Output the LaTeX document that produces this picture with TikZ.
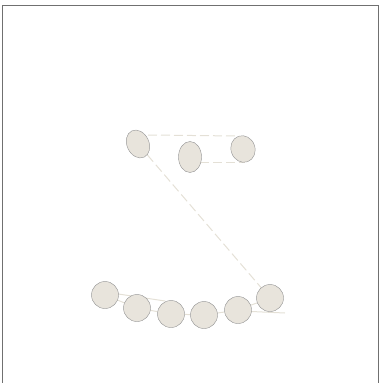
\documentclass[tikz,border=0pt]{standalone}
\usetikzlibrary{shapes.geometric,backgrounds,calc}
\definecolor{dotfill}{HTML}{E8E4DC}
\definecolor{dotline}{HTML}{E4E0D6}
\definecolor{framec}{HTML}{707070}
\begin{document}
\begin{tikzpicture}[x=1pt,y=-1pt,
  dot/.style={circle,fill=dotfill,draw=gray!80,line width=0.45pt,minimum size=27pt,inner sep=0pt},
  oval/.style={ellipse,fill=dotfill,draw=gray!80,line width=0.45pt,inner sep=0pt},
  link/.style={draw=dotline,line width=1pt},
  dlink/.style={draw=dotline,line width=1pt,dash pattern=on 9pt off 4pt}]
\useasboundingbox (0,0) rectangle (382,383);
\draw[framec,line width=1.3pt] (2.5,383) -- (2.5,5.5) -- (378.5,5.5) -- (378.5,383);
% nodes
\node[oval,minimum width=22pt,minimum height=29pt,rotate=25] (A) at (138,144) {};
\node[oval,minimum width=23pt,minimum height=31pt] (B) at (190,157) {};
\node[oval,minimum width=24pt,minimum height=27pt,rotate=20] (C) at (243,149) {};
\node[dot] (d1) at (105,295) {};
\node[dot] (d2) at (137,308) {};
\node[dot] (d3) at (171,314) {};
\node[dot] (d4) at (204,315) {};
\node[dot] (d5) at (238,310) {};
\node[dot] (d6) at (270,298) {};
% edges (behind nodes)
\begin{pgfonlayer}{background}
\draw[dlink] ($(A)+(10,-9)$) -- ($(C)+(-6,-13)$);
\draw[dlink] ($(B)+(10,5)$) -- ($(C)+(2,13)$);
\draw[dlink] (A) -- (d6);
\draw[link] (d1) -- (d2) -- (d3) -- (d4) -- (d5) -- (d6);
\draw[link] ($(d1)+(0,-3)$) -- ($(d3)+(-6,-13)$);
\draw[link] ($(d5)+(2,1)$) -- ($(d6)+(15,15)$);
\end{pgfonlayer}
\end{tikzpicture}
\end{document}
